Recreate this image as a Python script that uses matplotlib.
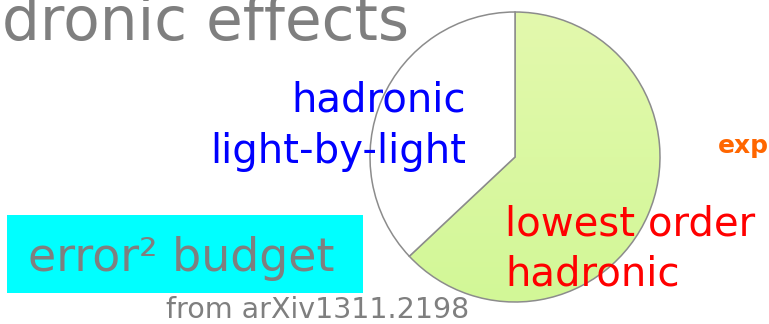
import numpy as np
import matplotlib
matplotlib.use("Agg")
import matplotlib.pyplot as plt
from matplotlib.colors import LinearSegmentedColormap

# data
labels = ["lowest order hadronic", "hadronic light-by-light"]
shares = [63, 37]
colors = ["#DBF8A2", "#FFFFFF"]

W, H = 769, 324
fig = plt.figure(figsize=(W / 100, H / 100), dpi=100)
ax = fig.add_axes([0, 0, 1, 1])

cx, cy, r = 515, H - 157, 145
wedges, _ = ax.pie(shares, colors=colors, startangle=90, counterclock=False,
                   center=(cx, cy), radius=r,
                   wedgeprops=dict(edgecolor="#8c8c8c", linewidth=1.1))

# soft vertical gradient in the green wedge
grad = np.linspace(0, 1, 256).reshape(-1, 1)
cmap = LinearSegmentedColormap.from_list("g", ["#D2F797", "#E3F9AD"])
im = ax.imshow(grad, cmap=cmap, extent=(cx - r, cx + r, cy - r, cy + r),
               origin="lower", aspect="auto", zorder=0.5)
im.set_clip_path(wedges[0])
wedges[0].set_facecolor("none")

ax.set_xlim(0, W)
ax.set_ylim(0, H)
ax.set_aspect("auto")
ax.axis("off")

def px(y):
    return H - y

gray = "#7f7f7f"
ax.text(2, px(40), "dronic effects", color=gray, fontsize=43,
        ha="left", va="baseline")

ax.text(466, px(112), "hadronic", color="#0000FF", fontsize=29,
        ha="right", va="baseline")
ax.text(466, px(163), "light-by-light", color="#0000FF", fontsize=29,
        ha="right", va="baseline")

ax.text(505, px(235), "lowest order", color="#FF0000", fontsize=29,
        ha="left", va="baseline")
ax.text(505, px(285), "hadronic", color="#FF0000", fontsize=29,
        ha="left", va="baseline")

ax.text(718, px(153), "exp", color="#FF6600", fontsize=18,
        fontweight="bold", ha="left", va="baseline")

ax.add_patch(plt.Rectangle((7, px(293)), 356, 78, facecolor="#00FFFF",
                           edgecolor="none", zorder=0.3))
ax.text(28, px(271), "error² budget", color=gray, fontsize=33,
        ha="left", va="baseline", zorder=3)

ax.text(166, px(318), "from arXiv1311.2198", color=gray, fontsize=20.5,
        ha="left", va="baseline")

fig.savefig("out.png", dpi=100)
